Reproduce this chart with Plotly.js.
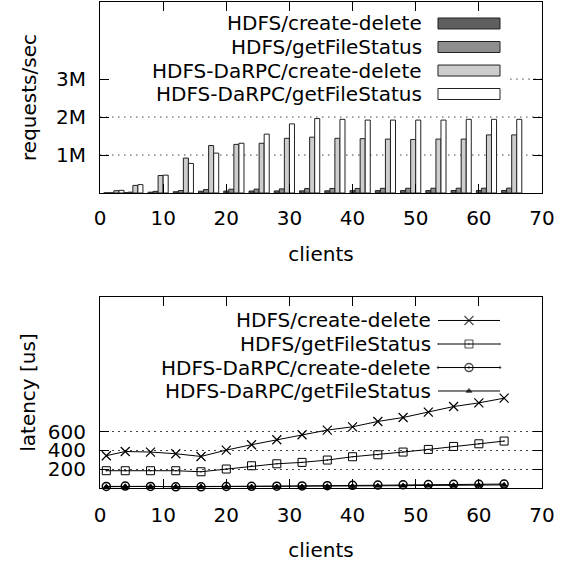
<!DOCTYPE html>
<html>
<head>
<meta charset="utf-8">
<script src="https://cdn.plot.ly/plotly-3.0.1.min.js"></script>
<style>html,body{margin:0;padding:0;background:#fff}#chart{width:569px;height:562px}</style>
</head>
<body>
<div id="chart"></div>
<script>
// ---- data ----
const clients = [1,4,8,12,16,20,24,28,32,36,40,44,48,52,56,60,64];
const seriesNames = ["HDFS/create-delete","HDFS/getFileStatus","HDFS-DaRPC/create-delete","HDFS-DaRPC/getFileStatus"];
// throughput, millions of requests/sec
const tputHdfsCreateDelete  = [0.003,0.010,0.021,0.033,0.047,0.050,0.052,0.054,0.056,0.058,0.061,0.062,0.064,0.064,0.065,0.066,0.067];
const tputHdfsGetFileStatus = [0.005,0.022,0.043,0.065,0.090,0.100,0.102,0.108,0.116,0.120,0.120,0.123,0.125,0.126,0.126,0.127,0.128];
const tputDarpcCreateDelete = [0.06,0.20,0.46,0.92,1.25,1.28,1.31,1.44,1.47,1.44,1.43,1.42,1.41,1.42,1.42,1.53,1.53];
const tputDarpcGetFileStatus= [0.07,0.22,0.47,0.78,1.05,1.31,1.55,1.82,1.96,1.94,1.92,1.92,1.92,1.92,1.94,1.94,1.94];
// latency, microseconds
const latHdfsCreateDelete  = [344,389,383,365,336,404,461,514,567,617,652,709,751,808,868,907,957];
const latHdfsGetFileStatus = [184,184,184,184,173,202,237,258,273,298,333,354,383,411,443,471,500];
const latDarpcCreateDelete = [17,20,17,13,13,16,18,19,22,25,28,31,34,37,39,39,42];
const latDarpcGetFileStatus= [14,18,17,15,15,15,15,15,16,19,21,23,25,27,29,31,33];
const xTicks = [0,10,20,30,40,50,60,70];
const tputTickVals = [1e6,2e6,3e6];
const tputTickText = ["1M","2M","3M"];
const latTickVals = [200,400,600];

// ---- styles ----
const FONT = "DejaVu Sans";
const GRID_DASH = "1.5px,4.5px";
const barFills = ["#5f5f5f","#8e8e8e","#cdcdcd","#ffffff"];
const barOffsets = [-0.4,0.4,1.2,2.0];
const lineSymbols = ["x-thin","square-open-dot","circle-open-dot","triangle-up"];
const lineSizes = [9,8,8,5];
const markerLineW = [1.2,1,1.5,1];
const tputSeries = [tputHdfsCreateDelete,tputHdfsGetFileStatus,tputDarpcCreateDelete,tputDarpcGetFileStatus];
const latSeries = [latHdfsCreateDelete,latHdfsGetFileStatus,latDarpcCreateDelete,latDarpcGetFileStatus];

const traces = [];
tputSeries.forEach((s,i)=>{
  traces.push({
    type:"bar", x:clients, y:s.map(v=>v*1e6), xaxis:"x", yaxis:"y",
    width:0.8, offset:barOffsets[i],
    marker:{color:barFills[i], line:{color:"#222", width:1}},
    showlegend:false, name:seriesNames[i]
  });
});
latSeries.forEach((s,i)=>{
  traces.push({
    type:"scatter", mode:"lines+markers", x:clients, y:s, xaxis:"x2", yaxis:"y2",
    line:{color:"#000", width:1},
    marker:{symbol:lineSymbols[i], size:lineSizes[i], color:"#000", line:{color:"#000", width:markerLineW[i]}},
    showlegend:false, name:seriesNames[i], cliponaxis:false
  });
});

// ---- keys (gnuplot style: text right-aligned, sample on the right) ----
const annotations = [];
const shapes = [];
// dotted grid of the top panel (the opaque key hides most of the 3M line)
tputTickVals.forEach((v,i)=>{
  shapes.push({type:"line", xref:"x domain", yref:"y", x0:(i===2?0.928:0), x1:1, y0:v, y1:v,
    line:{color:"#444", width:1, dash:GRID_DASH}, layer:"below"});
});
const topRows = [0.9558,0.9074,0.8590,0.8107];
const botRows = [0.3447,0.2963,0.2479,0.1996];
seriesNames.forEach((n,i)=>{
  annotations.push({xref:"paper", yref:"paper", x:0.733, y:topRows[i], xanchor:"right", yanchor:"middle",
    text:n, showarrow:false, font:{family:FONT, size:20, color:"#000"}});
  shapes.push({type:"rect", xref:"paper", yref:"paper", x0:0.7647, x1:0.905, y0:topRows[i]-0.0113, y1:topRows[i]+0.0113,
    fillcolor:barFills[i], line:{color:"#222", width:1}, layer:"above"});
  annotations.push({xref:"paper", yref:"paper", x:0.7534, y:botRows[i], xanchor:"right", yanchor:"middle",
    text:n, showarrow:false, font:{family:FONT, size:20, color:"#000"}});
  traces.push({
    type:"scatter", mode:"lines+markers", x:[0.7647,0.8348,0.905], y:[botRows[i],botRows[i],botRows[i]],
    xaxis:"x3", yaxis:"y3", cliponaxis:false, hoverinfo:"skip",
    line:{color:"#000", width:1},
    marker:{symbol:lineSymbols[i], size:[0,lineSizes[i],0], color:"#000", line:{color:"#000", width:markerLineW[i]}},
    showlegend:false
  });
});

const axBase = {
  showline:true, linecolor:"#000", linewidth:1, mirror:"ticks",
  ticks:"inside", ticklen:9, tickcolor:"#000", tickwidth:1,
  tickfont:{family:FONT, size:20, color:"#000"}, zeroline:false
};

const layout = {
  width:569, height:562,
  margin:{l:100, r:27, t:2, b:74},
  paper_bgcolor:"#fff", plot_bgcolor:"rgba(0,0,0,0)",
  font:{family:FONT, size:20, color:"#000"},
  barmode:"overlay", showlegend:false,
  xaxis:Object.assign({}, axBase, {domain:[0,1], anchor:"y", range:[0,70], tickvals:xTicks, showgrid:false,
    ticklabelstandoff:7, title:{text:"clients", font:{family:FONT,size:20}, standoff:18}}),
  yaxis:Object.assign({}, axBase, {domain:[0.607,1], anchor:"x", range:[0,5.03e6], showgrid:false,
    tickvals:tputTickVals, ticktext:tputTickText, ticklabelstandoff:9,
    title:{text:"requests/sec", font:{family:FONT,size:20}, standoff:14}}),
  xaxis2:Object.assign({}, axBase, {domain:[0,1], anchor:"y2", range:[0,70], tickvals:xTicks, showgrid:false,
    ticklabelstandoff:9, title:{text:"clients", font:{family:FONT,size:20}, standoff:20}}),
  yaxis2:Object.assign({}, axBase, {domain:[0,0.393], anchor:"x2", range:[0,2035],
    showgrid:true, gridcolor:"#444", griddash:GRID_DASH, gridwidth:1,
    tickvals:latTickVals, ticklabelstandoff:9,
    title:{text:"latency [us]", font:{family:FONT,size:20}, standoff:6}}),
  xaxis3:{domain:[0,1], anchor:"y3", range:[0,1], visible:false, fixedrange:true},
  yaxis3:{domain:[0,1], anchor:"x3", range:[0,1], visible:false, fixedrange:true},
  annotations:annotations, shapes:shapes
};

Plotly.newPlot("chart", traces, layout, {staticPlot:true, displayModeBar:false});
</script>
</body>
</html>
